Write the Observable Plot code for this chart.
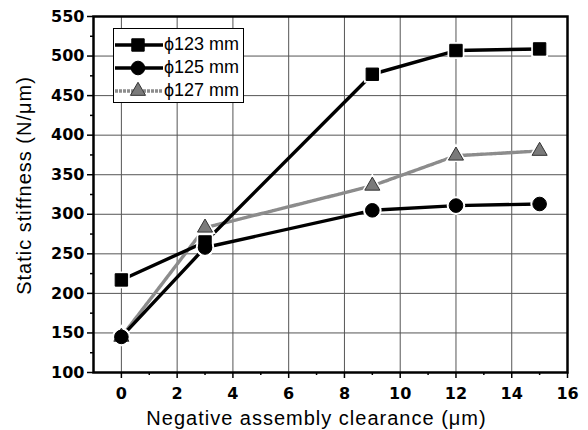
<!DOCTYPE html>
<html>
<head>
<meta charset="utf-8">
<script src="https://cdn.jsdelivr.net/npm/d3@7"></script>
<script src="https://cdn.jsdelivr.net/npm/@observablehq/plot@0.6"></script>
<style>
  body { margin: 0; background: #fff; }
  #wrap { position: relative; width: 588px; height: 430px; font-family: "Liberation Sans", Arial, sans-serif; }
  #legend { position: absolute; left: 113px; top: 28px; width: 131px; height: 75px; border: 1px solid #000; background: #fff; box-sizing: border-box; padding-top: 4px; }
  .row { display: flex; align-items: center; height: 23px; }
  .row svg { margin-left: 1px; }
  .row span { font-size: 18px; margin-left: 1px; color: #000; }
</style>
</head>
<body>
<div id="wrap"></div>
<script>
const clearance = [0, 3, 9, 12, 15];
const s123 = [217, 265, 477, 507, 509];
const s125 = [145, 258, 305, 311, 313];
const s127 = [145, 283, 336, 374, 380];
const seriesNames = ["ϕ123 mm", "ϕ125 mm", "ϕ127 mm"];
const xMajor = [0, 2, 4, 6, 8, 10, 12, 14, 16];
const xMinor = [1, 3, 5, 7, 9, 11, 13, 15];
const yMajor = [100, 150, 200, 250, 300, 350, 400, 450, 500, 550];
const yMinor = [125, 175, 225, 275, 325, 375, 425, 475, 525];
const xTitle = "Negative assembly clearance (μm)";
const yTitle = "Static stiffness (N/μm)";

const styles = [
  {stroke: "#000", fill: "#000", symbol: "square", r: 7, dash: null, mstroke: "#000"},
  {stroke: "#000", fill: "#000", symbol: "circle", r: 6.8, dash: null, mstroke: "#000"},
  {stroke: "#8c8c8c", fill: "#7a7a7a", symbol: "triangle", r: 5.6, dash: "3,1", mstroke: "#333"}
];
const allSeries = [s123, s125, s127];
const rows = allSeries.map((vals, i) => clearance.map((x, j) => ({x, y: vals[j], s: seriesNames[i]})));

const marks = [
  Plot.ruleX(xMajor.filter(d => d < 16), {stroke: "#555", strokeWidth: 1}),
  Plot.ruleY(yMajor.filter(d => d > 100 && d < 550), {stroke: "#555", strokeWidth: 1}),
];
[2, 1, 0].forEach(i => {
  const st = styles[i];
  marks.push(Plot.line(rows[i], {x: "x", y: "y", stroke: st.stroke, strokeWidth: 3.4, strokeDasharray: st.dash}));
});
[2, 1, 0].forEach(i => {
  const st = styles[i];
  marks.push(Plot.dot(rows[i], {x: "x", y: "y", symbol: () => st.symbol, r: st.r + 2.5, fill: "#fff", stroke: "none"}));
});
[2, 1, 0].forEach(i => {
  const st = styles[i];
  marks.push(Plot.dot(rows[i], {x: "x", y: "y", symbol: () => st.symbol, r: st.r, fill: st.fill, stroke: st.mstroke, strokeWidth: 1}));
});
marks.push(
  Plot.frame({stroke: "#000", strokeWidth: 2.5}),
  Plot.axisX(xMajor, {tickSize: 6, tickPadding: 9, label: null, strokeWidth: 1.5, fontWeight: "bold", fontSize: 16, fontFamily: "DejaVu Sans"}),
  Plot.axisX(xMinor, {tickSize: 3, tickFormat: () => "", label: null, strokeWidth: 1.5}),
  Plot.axisY(yMajor, {tickSize: 6, tickPadding: 3, label: null, strokeWidth: 1.5, fontWeight: "bold", fontSize: 16, fontFamily: "DejaVu Sans"}),
  Plot.axisY(yMinor, {tickSize: 3, tickFormat: () => "", label: null, strokeWidth: 1.5}),
  Plot.text([xTitle], {text: d => d, frameAnchor: "bottom", textAnchor: "middle", lineAnchor: "middle", dy: 46, dx: -14, fontSize: 20}),
  Plot.text([yTitle], {text: d => d, frameAnchor: "left", textAnchor: "middle", lineAnchor: "middle", rotate: -90, dx: -69, dy: -9, fontSize: 20})
);

const chart = Plot.plot({
  width: 588,
  height: 430,
  marginLeft: 93,
  marginRight: 21,
  marginTop: 16,
  marginBottom: 58,
  x: {domain: [-1, 16]},
  y: {domain: [100, 550]},
  style: {fontFamily: "Liberation Sans, Arial, sans-serif", fontSize: "17px", color: "#000", background: "#fff"},
  marks
});
d3.select(chart).selectAll("text")
  .filter(function() { return this.textContent === xTitle || this.textContent === yTitle; })
  .attr("letter-spacing", 1);
const wrap = document.getElementById("wrap");
wrap.appendChild(chart);

// Legend
const legend = document.createElement("div");
legend.id = "legend";
seriesNames.forEach((name, i) => {
  const st = styles[i];
  const row = document.createElement("div");
  row.className = "row";
  const svg = d3.create("svg").attr("width", 48).attr("height", 20);
  svg.append("line").attr("x1", 0).attr("x2", 48).attr("y1", 10).attr("y2", 10)
    .attr("stroke", st.stroke).attr("stroke-width", 3.4).attr("stroke-dasharray", st.dash);
  const sym = {square: d3.symbolSquare, circle: d3.symbolCircle, triangle: d3.symbolTriangle}[st.symbol];
  svg.append("path").attr("transform", "translate(23,10)")
    .attr("d", d3.symbol(sym, Math.PI * st.r * st.r)())
    .attr("fill", st.fill).attr("stroke", st.mstroke);
  row.appendChild(svg.node());
  const span = document.createElement("span");
  span.textContent = name;
  row.appendChild(span);
  legend.appendChild(row);
});
wrap.appendChild(legend);
</script>
</body>
</html>
